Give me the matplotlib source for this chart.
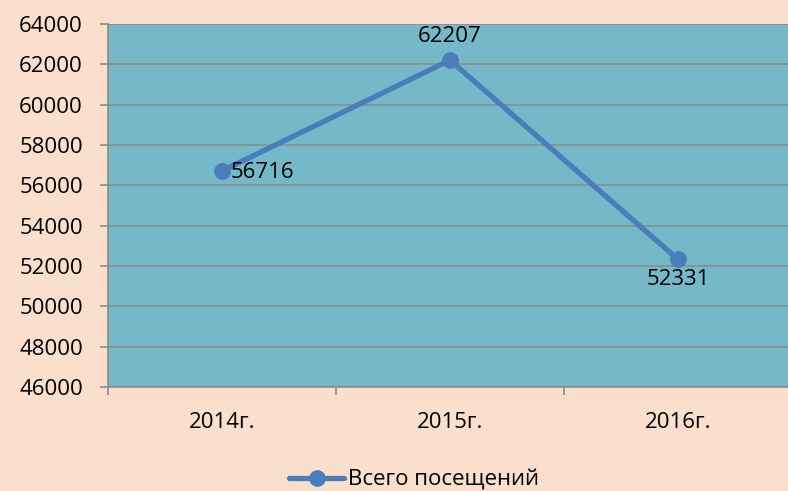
import matplotlib.pyplot as plt

years = ['2014г.', '2015г.', '2016г.']
visits = [56716, 62207, 52331]
series_name = 'Всего посещений'
y_ticks = list(range(46000, 64001, 2000))

plt.rcParams['font.family'] = ['Open Sans', 'DejaVu Sans']

bg = '#FADFCC'
plot_bg = '#75B8C8'
line_c = '#4A7EBB'
grid_c = '#8C8C8C'
fs = 16

fig = plt.figure(figsize=(7.88, 4.91), dpi=100, facecolor=bg)
ax = fig.add_axes([108/788, 1-387/491, 684/788, 363/491])
ax.set_facecolor(plot_bg)

x = list(range(len(years)))
ax.plot(x, visits, color=line_c, linewidth=3.8, marker='o', markersize=11,
        label=series_name, solid_capstyle='round', zorder=3)

# data labels (offsets in points)
offsets = [(6, -1, 'left'), (0, 17, 'center'), (0, -14.5, 'center')]
for xi, v, (dx, dy, ha) in zip(x, visits, offsets):
    ax.annotate(str(v), (xi, v), xytext=(dx, dy), textcoords='offset points',
                ha=ha, va='center', fontsize=fs, color='black')

ax.set_xlim(-0.5, 2.5)
ax.set_ylim(46000, 64000)
ax.set_yticks(y_ticks)
ax.set_yticklabels([str(t) for t in y_ticks], fontsize=fs)
ax.set_xticks(x)
ax.set_xticklabels(years, fontsize=fs)
ax.set_xticks([-0.5, 0.5, 1.5, 2.5], minor=True)
ax.tick_params(axis='x', which='major', length=0, pad=18)
ax.tick_params(axis='x', which='minor', length=6, color=grid_c, width=1.2)
ax.tick_params(axis='y', length=6, color=grid_c, width=1.2, pad=12)
ax.grid(axis='y', color=grid_c, linewidth=1.2, zorder=1)
ax.set_axisbelow(True)
for s in ['top', 'right']:
    ax.spines[s].set_visible(False)
for s in ['left', 'bottom']:
    ax.spines[s].set_color(grid_c)
    ax.spines[s].set_linewidth(1.2)

leg = fig.legend(loc='center', bbox_to_anchor=(0.525, 1-480/491), frameon=False,
                 fontsize=fs, handlelength=2.5, handletextpad=0.15)

fig.savefig('out.png', dpi=100, facecolor=bg)
